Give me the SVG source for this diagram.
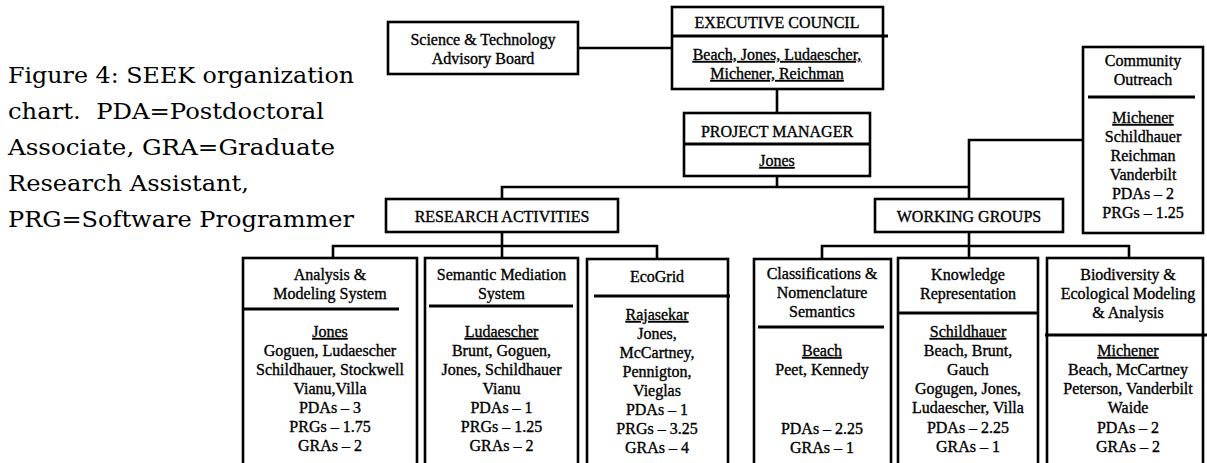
<svg xmlns="http://www.w3.org/2000/svg" width="1207" height="463" viewBox="0 0 1207 463">
<style>
.box{fill:#fff;stroke:#000;stroke-width:2.6}
.dv{stroke:#000;stroke-width:3.2}
.con{fill:none;stroke:#000;stroke-width:2.6}
.t{font-family:"Liberation Serif","Times New Roman",serif;font-size:16px;text-anchor:middle;fill:#000;stroke:#000;stroke-width:0.35}
.u{text-decoration:underline}
.cap{font-family:"DejaVu Serif",serif;font-size:23px;fill:#000;white-space:pre}
</style>
<rect width="1207" height="463" fill="#fff"/>
<g id="caption">
<text class="cap" x="8" y="83" textLength="346" lengthAdjust="spacingAndGlyphs">Figure 4: SEEK organization</text>
<text class="cap" x="8" y="119" textLength="316" lengthAdjust="spacingAndGlyphs" xml:space="preserve">chart.  PDA=Postdoctoral</text>
<text class="cap" x="8" y="155" textLength="327" lengthAdjust="spacingAndGlyphs">Associate, GRA=Graduate</text>
<text class="cap" x="8" y="191" textLength="241" lengthAdjust="spacingAndGlyphs">Research Assistant,</text>
<text class="cap" x="8" y="227" textLength="346" lengthAdjust="spacingAndGlyphs">PRG=Software Programmer</text>
</g>
<g id="connectors">
<path class="con" d="M578,48 H672"/>
<path class="con" d="M777,89 V113"/>
<path class="con" d="M777,176 V187"/>
<path class="con" d="M502,199 V187 H969"/>
<path class="con" d="M1083,140 H969 V199"/>
<path class="con" d="M502,232 V258"/>
<path class="con" d="M333,258 V246 H657 V259"/>
<path class="con" d="M969,232 V258"/>
<path class="con" d="M822,259 V246 H1129 V258"/>
</g>
<g id="advisory-board">
<rect class="box" x="388" y="22" width="190" height="52"/>
<text class="t" x="483" y="45">Science &amp; Technology</text>
<text class="t" x="483" y="64">Advisory Board</text>
</g>
<g id="executive-council">
<rect class="box" x="672" y="7" width="211" height="82"/>
<line class="dv" x1="672" y1="36" x2="888" y2="36"/>
<text class="t" x="777" y="28">EXECUTIVE COUNCIL</text>
<text class="t u" x="777" y="60">Beach, Jones, Ludaescher,</text>
<text class="t u" x="777" y="79">Michener, Reichman</text>
</g>
<g id="project-manager">
<rect class="box" x="684" y="113" width="186" height="63"/>
<line class="dv" x1="684" y1="144" x2="870" y2="144"/>
<text class="t" x="777" y="137">PROJECT MANAGER</text>
<text class="t u" x="777" y="166">Jones</text>
</g>
<g id="community-outreach">
<rect class="box" x="1083" y="47" width="120" height="186"/>
<line class="dv" x1="1088" y1="97" x2="1195" y2="97"/>
<text class="t" x="1143" y="66">Community</text>
<text class="t" x="1143" y="85">Outreach</text>
<text class="t u" x="1143" y="123">Michener</text>
<text class="t" x="1143" y="142">Schildhauer</text>
<text class="t" x="1143" y="161">Reichman</text>
<text class="t" x="1143" y="180">Vanderbilt</text>
<text class="t" x="1143" y="199">PDAs – 2</text>
<text class="t" x="1143" y="218">PRGs – 1.25</text>
</g>
<g id="research-activities">
<rect class="box" x="386" y="199" width="232" height="33"/>
<text class="t" x="502" y="222">RESEARCH ACTIVITIES</text>
</g>
<g id="working-groups">
<rect class="box" x="875" y="199" width="188" height="33"/>
<text class="t" x="969" y="222">WORKING GROUPS</text>
</g>
<g id="analysis-modeling">
<rect class="box" x="243" y="258" width="174" height="220"/>
<line class="dv" x1="243" y1="309" x2="399" y2="309"/>
<text class="t" x="330" y="280">Analysis &amp;</text>
<text class="t" x="330" y="299">Modeling System</text>
<text class="t u" x="330" y="337">Jones</text>
<text class="t" x="330" y="356">Goguen, Ludaescher</text>
<text class="t" x="330" y="375">Schildhauer, Stockwell</text>
<text class="t" x="330" y="394">Vianu,Villa</text>
<text class="t" x="330" y="413">PDAs – 3</text>
<text class="t" x="330" y="432">PRGs – 1.75</text>
<text class="t" x="330" y="451">GRAs – 2</text>
</g>
<g id="semantic-mediation">
<rect class="box" x="425" y="258" width="153" height="220"/>
<line class="dv" x1="429" y1="306" x2="573" y2="306"/>
<text class="t" x="501.5" y="280">Semantic Mediation</text>
<text class="t" x="501.5" y="299">System</text>
<text class="t u" x="501.5" y="337">Ludaescher</text>
<text class="t" x="501.5" y="356">Brunt, Goguen,</text>
<text class="t" x="501.5" y="375">Jones, Schildhauer</text>
<text class="t" x="501.5" y="394">Vianu</text>
<text class="t" x="501.5" y="413">PDAs – 1</text>
<text class="t" x="501.5" y="432">PRGs – 1.25</text>
<text class="t" x="501.5" y="451">GRAs – 2</text>
</g>
<g id="ecogrid">
<rect class="box" x="587" y="259" width="141" height="220"/>
<line class="dv" x1="594" y1="296" x2="730" y2="296"/>
<text class="t" x="657" y="282">EcoGrid</text>
<text class="t u" x="657" y="320">Rajasekar</text>
<text class="t" x="657" y="339">Jones,</text>
<text class="t" x="657" y="358">McCartney,</text>
<text class="t" x="657" y="377">Pennigton,</text>
<text class="t" x="657" y="396">Vieglas</text>
<text class="t" x="657" y="415">PDAs – 1</text>
<text class="t" x="657" y="434">PRGs – 3.25</text>
<text class="t" x="657" y="453">GRAs – 4</text>
</g>
<g id="classifications">
<rect class="box" x="754" y="259" width="137" height="220"/>
<line class="dv" x1="758" y1="327" x2="884" y2="327"/>
<text class="t" x="822" y="279">Classifications &amp;</text>
<text class="t" x="822" y="298">Nomenclature</text>
<text class="t" x="822" y="317">Semantics</text>
<text class="t u" x="822" y="356">Beach</text>
<text class="t" x="822" y="375">Peet, Kennedy</text>
<text class="t" x="822" y="434">PDAs – 2.25</text>
<text class="t" x="822" y="453">GRAs – 1</text>
</g>
<g id="knowledge-representation">
<rect class="box" x="898" y="258" width="140" height="220"/>
<line class="dv" x1="898" y1="313" x2="1038" y2="313"/>
<text class="t" x="968" y="280">Knowledge</text>
<text class="t" x="968" y="299">Representation</text>
<text class="t u" x="968" y="337">Schildhauer</text>
<text class="t" x="968" y="356">Beach, Brunt,</text>
<text class="t" x="968" y="375">Gauch</text>
<text class="t" x="968" y="394">Gogugen, Jones,</text>
<text class="t" x="968" y="413">Ludaescher, Villa</text>
<text class="t" x="968" y="433">PDAs – 2.25</text>
<text class="t" x="968" y="452">GRAs – 1</text>
</g>
<g id="biodiversity">
<rect class="box" x="1047" y="258" width="156" height="220"/>
<line class="dv" x1="1045" y1="335" x2="1207" y2="335"/>
<text class="t" x="1128" y="280">Biodiversity &amp;</text>
<text class="t" x="1128" y="299">Ecological Modeling</text>
<text class="t" x="1128" y="318">&amp; Analysis</text>
<text class="t u" x="1128" y="356">Michener</text>
<text class="t" x="1128" y="375">Beach, McCartney</text>
<text class="t" x="1128" y="394">Peterson, Vanderbilt</text>
<text class="t" x="1128" y="413">Waide</text>
<text class="t" x="1128" y="433">PDAs – 2</text>
<text class="t" x="1128" y="452">GRAs – 2</text>
</g>
</svg>
